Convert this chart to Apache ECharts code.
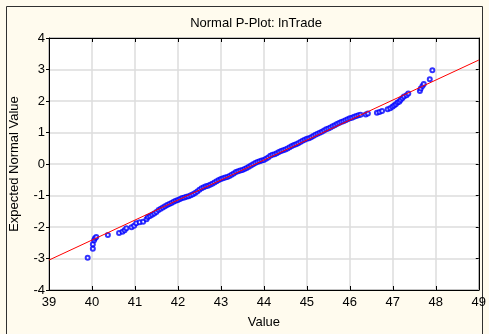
<!DOCTYPE html>
<html>
<head>
<meta charset="utf-8">
<script src="https://cdn.jsdelivr.net/npm/echarts@6/dist/echarts.min.js"></script>
<style>
html,body{margin:0;padding:0;background:#fffbee;}
#c{width:489px;height:334px;}
</style>
</head>
<body>
<div id="c"></div>
<script>
// Observed values (x = data value, y = expected normal value)
var pointX = [
  39.90, 40.02, 40.02, 40.05, 40.07, 40.10, 40.37, 40.63, 40.71, 40.76, 40.80, 40.92, 40.98, 41.03, 41.11, 41.19, 41.27,
  41.30, 41.35, 41.40, 41.45, 41.50, 41.55, 41.60, 41.65, 41.70, 41.75, 41.80, 41.85, 41.90, 41.95, 42.00, 42.05, 42.10,
  42.15, 42.20, 42.25, 42.30, 42.35, 42.40, 42.45, 42.50, 42.55, 42.60, 42.65, 42.70, 42.75, 42.80, 42.85, 42.90, 42.95,
  43.00, 43.05, 43.10, 43.15, 43.20, 43.25, 43.30, 43.35, 43.40, 43.45, 43.50, 43.55, 43.60, 43.65, 43.70, 43.75, 43.80,
  43.85, 43.90, 43.95, 44.00, 44.05, 44.10, 44.15, 44.20, 44.25, 44.30, 44.35, 44.40, 44.45, 44.50, 44.55, 44.60, 44.65,
  44.70, 44.75, 44.80, 44.85, 44.90, 44.95, 45.00, 45.05, 45.10, 45.15, 45.20, 45.25, 45.30, 45.35, 45.40, 45.45, 45.50,
  45.55, 45.60, 45.65, 45.70, 45.75, 45.80, 45.85, 45.90, 45.95, 46.00, 46.05, 46.10, 46.15, 46.20, 46.25,
  46.37, 46.42, 46.63, 46.69, 46.75, 46.88, 46.94, 46.99, 47.03, 47.07, 47.11, 47.15, 47.18, 47.22, 47.26, 47.32, 47.36,
  47.63, 47.65, 47.69, 47.72, 47.86, 47.92
];
var pointY = [
  -2.98, -2.69, -2.55, -2.42, -2.36, -2.32, -2.25, -2.19, -2.15, -2.10, -2.04, -2.01, -1.96, -1.88, -1.85, -1.83, -1.75,
  -1.68, -1.65, -1.61, -1.57, -1.52, -1.46, -1.42, -1.38, -1.34, -1.30, -1.27, -1.24, -1.20, -1.17, -1.14, -1.11, -1.08,
  -1.06, -1.04, -1.02, -0.99, -0.96, -0.92, -0.87, -0.82, -0.77, -0.74, -0.71, -0.69, -0.66, -0.63, -0.59, -0.55, -0.51,
  -0.48, -0.45, -0.43, -0.41, -0.38, -0.34, -0.30, -0.25, -0.23, -0.21, -0.19, -0.16, -0.13, -0.09, -0.05, -0.01, 0.03,
  0.06, 0.09, 0.11, 0.13, 0.17, 0.21, 0.26, 0.29, 0.31, 0.34, 0.38, 0.41, 0.44, 0.46, 0.49, 0.53, 0.57,
  0.60, 0.63, 0.66, 0.70, 0.74, 0.77, 0.80, 0.82, 0.85, 0.89, 0.93, 0.96, 0.99, 1.02, 1.06, 1.10, 1.13,
  1.16, 1.20, 1.23, 1.27, 1.30, 1.33, 1.36, 1.39, 1.42, 1.45, 1.47, 1.50, 1.52, 1.55, 1.56,
  1.57, 1.60, 1.63, 1.65, 1.68, 1.74, 1.77, 1.82, 1.86, 1.90, 1.95, 1.98, 2.03, 2.09, 2.14, 2.18, 2.24,
  2.32, 2.40, 2.48, 2.54, 2.69, 2.98
];
var fitX = [39, 49];
var fitY = [-3.05, 3.30];
var xTicks = [39, 40, 41, 42, 43, 44, 45, 46, 47, 48, 49];
var yTicks = [-4, -3, -2, -1, 0, 1, 2, 3, 4];
var titleText = 'Normal P-Plot: lnTrade';
var xTitle = 'Value';
var yTitle = 'Expected Normal Value';

var pts = pointX.map(function (x, i) { return [x, pointY[i]]; });
var fit = fitX.map(function (x, i) { return [x, fitY[i]]; });

var chart = echarts.init(document.getElementById('c'), null, {renderer: 'canvas'});
var font = 'Liberation Sans, Arial, sans-serif';
var gridLine = {show: true, lineStyle: {color: '#dcdcdc', width: 1.5}};
chart.setOption({
  backgroundColor: '#fffbee',
  animation: false,
  graphic: [{
    type: 'rect', z: -1,
    shape: {x: 6.5, y: 6.5, width: 476, height: 340},
    style: {fill: 'none', stroke: '#303030', lineWidth: 1}
  }],
  title: {
    text: titleText, left: 251, top: 12, textAlign: 'center',
    textStyle: {fontFamily: font, fontSize: 13, fontWeight: 'normal', color: '#000'}
  },
  grid: {left: 48, right: 7, top: 38, bottom: 44, show: true, backgroundColor: '#ffffff', borderColor: '#000', borderWidth: 1},
  xAxis: [{
    type: 'value', min: xTicks[0], max: xTicks[xTicks.length - 1], interval: 1,
    name: xTitle, nameLocation: 'middle', nameGap: 26,
    nameTextStyle: {fontFamily: font, fontSize: 13, color: '#000'},
    axisLine: {show: true, onZero: false, lineStyle: {color: '#000'}},
    axisTick: {show: true, inside: true, length: 4, lineStyle: {color: '#000'}},
    axisLabel: {fontFamily: font, fontSize: 13, color: '#000', margin: 6},
    splitLine: gridLine
  }, {
    type: 'value', position: 'top', min: xTicks[0], max: xTicks[xTicks.length - 1], interval: 1,
    axisLine: {show: true, onZero: false, lineStyle: {color: '#000'}},
    axisTick: {show: true, inside: true, length: 4, lineStyle: {color: '#000'}},
    axisLabel: {show: false}, splitLine: {show: false}
  }],
  yAxis: [{
    type: 'value', min: yTicks[0], max: yTicks[yTicks.length - 1], interval: 1,
    name: yTitle, nameLocation: 'middle', nameGap: 28, nameRotate: 90,
    nameTextStyle: {fontFamily: font, fontSize: 13, color: '#000'},
    axisLine: {show: true, onZero: false, lineStyle: {color: '#000'}},
    axisTick: {show: true, inside: false, length: 3, lineStyle: {color: '#000'}},
    axisLabel: {fontFamily: font, fontSize: 13, color: '#000', margin: 4},
    splitLine: gridLine
  }, {
    type: 'value', position: 'right', min: yTicks[0], max: yTicks[yTicks.length - 1], interval: 1,
    axisLine: {show: true, onZero: false, lineStyle: {color: '#000'}},
    axisTick: {show: true, inside: true, length: 3, lineStyle: {color: '#000'}},
    axisLabel: {show: false}, splitLine: {show: false}
  }],
  series: [{
    type: 'scatter', data: pts, symbol: 'emptyCircle', symbolSize: 4,
    itemStyle: {color: '#0000ff', borderColor: '#0000ff', borderWidth: 1},
    z: 2
  }, {
    type: 'line', data: fit, symbol: 'none',
    lineStyle: {color: '#ff0000', width: 1}, z: 3
  }]
});
</script>
</body>
</html>
